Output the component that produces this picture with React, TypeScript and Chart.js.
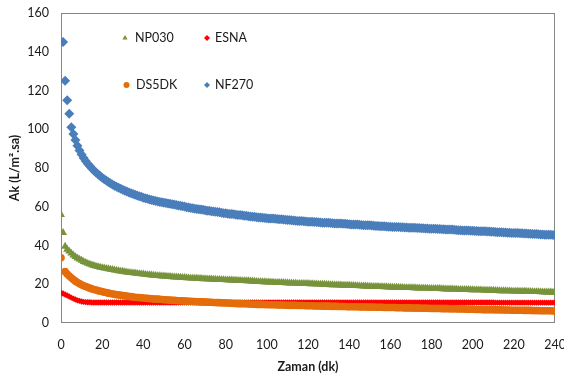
import React, { useEffect, useRef } from 'react';
import { Chart, registerables } from 'chart.js';
import { drawPoint } from 'chart.js/helpers';

Chart.register(...registerables);

// Time (minutes)
const minutes = [
  0, 1, 2, 3, 4, 5, 6, 7, 8, 9, 10,
  11, 12, 13, 14, 15, 16, 17, 18, 19, 20,
  21, 22, 23, 24, 25, 26, 27, 28, 29, 30,
  31, 32, 33, 34, 35, 36, 37, 38, 39, 40,
  41, 42, 43, 44, 45, 46, 47, 48, 49, 50,
  51, 52, 53, 54, 55, 56, 57, 58, 59, 60,
  61, 62, 63, 64, 65, 66, 67, 68, 69, 70,
  71, 72, 73, 74, 75, 76, 77, 78, 79, 80,
  81, 82, 83, 84, 85, 86, 87, 88, 89, 90,
  91, 92, 93, 94, 95, 96, 97, 98, 99, 100,
  101, 102, 103, 104, 105, 106, 107, 108, 109, 110,
  111, 112, 113, 114, 115, 116, 117, 118, 119, 120,
  121, 122, 123, 124, 125, 126, 127, 128, 129, 130,
  131, 132, 133, 134, 135, 136, 137, 138, 139, 140,
  141, 142, 143, 144, 145, 146, 147, 148, 149, 150,
  151, 152, 153, 154, 155, 156, 157, 158, 159, 160,
  161, 162, 163, 164, 165, 166, 167, 168, 169, 170,
  171, 172, 173, 174, 175, 176, 177, 178, 179, 180,
  181, 182, 183, 184, 185, 186, 187, 188, 189, 190,
  191, 192, 193, 194, 195, 196, 197, 198, 199, 200,
  201, 202, 203, 204, 205, 206, 207, 208, 209, 210,
  211, 212, 213, 214, 215, 216, 217, 218, 219, 220,
  221, 222, 223, 224, 225, 226, 227, 228, 229, 230,
  231, 232, 233, 234, 235, 236, 237, 238, 239, 240,
];

const nf270 = [
  null, 145, 125, 115, 108, 101, 97.5, 94.5, 91.5, 89, 87,
  85.2, 83.6, 82.2, 81.0, 79.8, 78.7, 77.7, 76.8, 75.9, 75.0,
  74.2, 73.5, 72.8, 72.1, 71.5, 70.9, 70.3, 69.8, 69.3, 68.8,
  68.3, 67.9, 67.4, 67.0, 66.6, 66.2, 65.8, 65.4, 65.1, 64.7,
  64.4, 64.1, 63.8, 63.5, 63.2, 63.0, 62.7, 62.5, 62.3, 62.1,
  61.9, 61.7, 61.5, 61.3, 61.1, 60.9, 60.7, 60.5, 60.3, 60.1,
  59.8, 59.6, 59.4, 59.2, 59.0, 58.9, 58.7, 58.6, 58.4, 58.2,
  58.0, 57.9, 57.7, 57.6, 57.4, 57.3, 57.1, 56.9, 56.7, 56.6,
  56.4, 56.3, 56.2, 56.1, 55.9, 55.8, 55.7, 55.6, 55.4, 55.3,
  55.1, 55.0, 54.9, 54.8, 54.6, 54.5, 54.4, 54.3, 54.2, 54.1,
  54.0, 54.0, 53.9, 53.8, 53.7, 53.6, 53.5, 53.4, 53.3, 53.2,
  53.1, 53.0, 52.9, 52.8, 52.7, 52.7, 52.6, 52.5, 52.4, 52.3,
  52.2, 52.2, 52.1, 52.1, 52.0, 51.9, 51.8, 51.8, 51.7, 51.7,
  51.6, 51.5, 51.4, 51.4, 51.3, 51.3, 51.2, 51.2, 51.1, 51.0,
  50.9, 50.9, 50.8, 50.8, 50.7, 50.6, 50.5, 50.5, 50.4, 50.4,
  50.3, 50.2, 50.1, 50.1, 50.0, 50.0, 49.9, 49.8, 49.7, 49.7,
  49.6, 49.6, 49.5, 49.5, 49.4, 49.4, 49.3, 49.3, 49.2, 49.2,
  49.1, 49.1, 49.0, 49.0, 48.9, 48.9, 48.8, 48.8, 48.7, 48.7,
  48.6, 48.6, 48.5, 48.5, 48.4, 48.4, 48.3, 48.3, 48.2, 48.2,
  48.1, 48.0, 47.9, 47.9, 47.8, 47.8, 47.7, 47.7, 47.6, 47.6,
  47.5, 47.5, 47.4, 47.4, 47.3, 47.3, 47.2, 47.2, 47.1, 47.1,
  47.0, 46.9, 46.8, 46.8, 46.7, 46.7, 46.6, 46.6, 46.5, 46.5,
  46.4, 46.4, 46.3, 46.3, 46.2, 46.2, 46.1, 46.1, 46.0, 46.0,
  45.9, 45.8, 45.7, 45.7, 45.6, 45.6, 45.5, 45.5, 45.4, 45.4,
];

const np030 = [
  55.9, 46.6, 39.5, 38.0, 37.0, 36.0, 35.0, 34.2, 33.5, 32.9, 32.3,
  31.7, 31.2, 30.7, 30.3, 29.9, 29.6, 29.3, 29.0, 28.7, 28.5,
  28.3, 28.1, 27.9, 27.7, 27.5, 27.3, 27.1, 26.9, 26.7, 26.6,
  26.4, 26.2, 26.0, 25.9, 25.8, 25.7, 25.5, 25.4, 25.3, 25.2,
  25.0, 24.9, 24.8, 24.7, 24.6, 24.5, 24.4, 24.3, 24.2, 24.2,
  24.1, 24.0, 23.9, 23.8, 23.7, 23.7, 23.6, 23.5, 23.4, 23.4,
  23.3, 23.2, 23.1, 23.1, 23.0, 23.0, 22.9, 22.9, 22.8, 22.8,
  22.7, 22.6, 22.6, 22.5, 22.5, 22.4, 22.4, 22.3, 22.3, 22.2,
  22.2, 22.1, 22.1, 22.0, 22.0, 21.9, 21.9, 21.8, 21.8, 21.7,
  21.7, 21.6, 21.6, 21.5, 21.4, 21.3, 21.3, 21.2, 21.2, 21.1,
  21.1, 21.0, 21.0, 20.9, 20.9, 20.9, 20.8, 20.8, 20.7, 20.7,
  20.6, 20.6, 20.5, 20.5, 20.4, 20.4, 20.4, 20.4, 20.3, 20.3,
  20.2, 20.2, 20.1, 20.1, 20.0, 20.0, 19.9, 19.9, 19.8, 19.8,
  19.7, 19.7, 19.6, 19.6, 19.5, 19.5, 19.4, 19.4, 19.4, 19.4,
  19.3, 19.3, 19.2, 19.2, 19.1, 19.1, 19.0, 19.0, 18.9, 18.9,
  18.8, 18.8, 18.8, 18.8, 18.7, 18.7, 18.6, 18.6, 18.5, 18.5,
  18.4, 18.4, 18.4, 18.4, 18.3, 18.3, 18.2, 18.2, 18.2, 18.2,
  18.1, 18.1, 18.0, 18.0, 17.9, 17.9, 17.9, 17.9, 17.8, 17.8,
  17.7, 17.7, 17.7, 17.7, 17.6, 17.6, 17.5, 17.5, 17.5, 17.5,
  17.4, 17.4, 17.3, 17.3, 17.2, 17.2, 17.2, 17.2, 17.1, 17.1,
  17.0, 17.0, 17.0, 17.0, 16.9, 16.9, 16.8, 16.8, 16.8, 16.8,
  16.7, 16.7, 16.6, 16.6, 16.6, 16.6, 16.5, 16.5, 16.4, 16.4,
  16.4, 16.4, 16.3, 16.3, 16.3, 16.3, 16.2, 16.2, 16.1, 16.1,
  16.1, 16.1, 16.0, 16.0, 15.9, 15.9, 15.9, 15.9, 15.8, 15.8,
];

const ds5dk = [
  33.7, null, 26.5, 25.3, 24.2, 23.3, 22.4, 21.6, 20.9, 20.3, 19.7,
  19.2, 18.8, 18.4, 18.0, 17.6, 17.3, 17.0, 16.7, 16.4, 16.2,
  15.9, 15.7, 15.4, 15.2, 15.0, 14.8, 14.6, 14.5, 14.3, 14.2,
  14.0, 13.9, 13.7, 13.6, 13.4, 13.3, 13.2, 13.1, 13.0, 12.9,
  12.8, 12.7, 12.6, 12.5, 12.4, 12.3, 12.3, 12.2, 12.1, 12.0,
  12.0, 11.9, 11.8, 11.7, 11.7, 11.6, 11.5, 11.5, 11.4, 11.3,
  11.3, 11.2, 11.2, 11.1, 11.1, 11.0, 11.0, 10.9, 10.9, 10.8,
  10.8, 10.7, 10.7, 10.6, 10.6, 10.5, 10.5, 10.4, 10.4, 10.3,
  10.3, 10.2, 10.2, 10.1, 10.1, 10.0, 10.0, 9.9, 9.9, 9.9,
  9.8, 9.8, 9.7, 9.7, 9.6, 9.6, 9.6, 9.6, 9.5, 9.5,
  9.4, 9.4, 9.4, 9.4, 9.3, 9.3, 9.3, 9.3, 9.2, 9.2,
  9.1, 9.1, 9.1, 9.1, 9.0, 9.0, 9.0, 9.0, 8.9, 8.9,
  8.9, 8.9, 8.8, 8.8, 8.8, 8.8, 8.7, 8.7, 8.7, 8.7,
  8.6, 8.6, 8.6, 8.6, 8.5, 8.5, 8.5, 8.5, 8.4, 8.4,
  8.4, 8.4, 8.4, 8.4, 8.3, 8.3, 8.3, 8.3, 8.2, 8.2,
  8.2, 8.2, 8.1, 8.1, 8.1, 8.1, 8.0, 8.0, 8.0, 8.0,
  8.0, 8.0, 7.9, 7.9, 7.9, 7.9, 7.8, 7.8, 7.8, 7.8,
  7.7, 7.7, 7.7, 7.7, 7.6, 7.6, 7.6, 7.6, 7.5, 7.5,
  7.5, 7.5, 7.5, 7.5, 7.4, 7.4, 7.4, 7.4, 7.3, 7.3,
  7.3, 7.3, 7.2, 7.2, 7.2, 7.2, 7.1, 7.1, 7.1, 7.1,
  7.0, 7.0, 7.0, 7.0, 6.9, 6.9, 6.9, 6.9, 6.9, 6.9,
  6.8, 6.8, 6.8, 6.8, 6.7, 6.7, 6.7, 6.7, 6.6, 6.6,
  6.6, 6.6, 6.6, 6.6, 6.5, 6.5, 6.5, 6.5, 6.4, 6.4,
  6.4, 6.4, 6.3, 6.3, 6.3, 6.3, 6.3, 6.3, 6.2, 6.2,
];

const esna = [
  15.6, 15.2, 14.7, 14.2, 13.7, 13.1, 12.6, 12.1, 11.7, 11.4, 11.1,
  10.9, 10.8, 10.7, 10.7, 10.6, 10.6, 10.6, 10.6, 10.6, 10.6,
  10.6, 10.6, 10.6, 10.6, 10.6, 10.6, 10.6, 10.6, 10.6, 10.6,
  10.6, 10.6, 10.6, 10.6, 10.6, 10.6, 10.6, 10.6, 10.6, 10.6,
  10.6, 10.6, 10.6, 10.6, 10.6, 10.6, 10.6, 10.6, 10.6, 10.6,
  10.6, 10.6, 10.6, 10.6, 10.6, 10.6, 10.6, 10.6, 10.6, 10.6,
  10.6, 10.6, 10.6, 10.6, 10.6, 10.6, 10.6, 10.6, 10.6, 10.6,
  10.6, 10.6, 10.6, 10.6, 10.6, 10.6, 10.6, 10.6, 10.6, 10.6,
  10.6, 10.6, 10.6, 10.6, 10.6, 10.6, 10.6, 10.6, 10.6, 10.6,
  10.6, 10.6, 10.6, 10.6, 10.6, 10.6, 10.6, 10.6, 10.6, 10.6,
  10.6, 10.6, 10.6, 10.6, 10.6, 10.6, 10.6, 10.6, 10.6, 10.6,
  10.6, 10.6, 10.6, 10.6, 10.6, 10.6, 10.6, 10.6, 10.6, 10.6,
  10.6, 10.6, 10.6, 10.6, 10.6, 10.6, 10.6, 10.6, 10.6, 10.6,
  10.6, 10.6, 10.6, 10.6, 10.6, 10.6, 10.6, 10.6, 10.6, 10.6,
  10.6, 10.6, 10.6, 10.6, 10.6, 10.6, 10.6, 10.6, 10.6, 10.6,
  10.6, 10.6, 10.6, 10.6, 10.6, 10.6, 10.6, 10.6, 10.6, 10.6,
  10.6, 10.6, 10.6, 10.6, 10.6, 10.6, 10.6, 10.6, 10.6, 10.6,
  10.6, 10.6, 10.6, 10.6, 10.6, 10.6, 10.6, 10.6, 10.6, 10.6,
  10.6, 10.6, 10.6, 10.6, 10.6, 10.6, 10.6, 10.6, 10.6, 10.6,
  10.6, 10.6, 10.6, 10.6, 10.6, 10.6, 10.6, 10.6, 10.6, 10.6,
  10.6, 10.6, 10.6, 10.6, 10.6, 10.6, 10.6, 10.6, 10.6, 10.6,
  10.5, 10.5, 10.5, 10.5, 10.5, 10.5, 10.5, 10.5, 10.5, 10.5,
  10.5, 10.5, 10.5, 10.5, 10.5, 10.5, 10.5, 10.5, 10.5, 10.5,
  10.5, 10.5, 10.5, 10.5, 10.5, 10.5, 10.5, 10.5, 10.5, 10.5,
];

const xTicks = [0, 20, 40, 60, 80, 100, 120, 140, 160, 180, 200, 220, 240];
const yTicks = [0, 20, 40, 60, 80, 100, 120, 140, 160];

const seriesNames = ['NP030', 'ESNA', 'DS5DK', 'NF270'];
const seriesColors = ['#77933C', '#FF0000', '#E46C0A', '#4A7EBB'];
const seriesStyles = ['triangle', 'rectRot', 'circle', 'rectRot'];
const seriesRadius = [4.6, 3.2, 3.8, 5];
const seriesValues = [np030, esna, ds5dk, nf270];

const FONT = 'Lato, "Open Sans", sans-serif';

const toPoints = (vals: (number | null)[]) =>
  minutes.map((m, i) => ({ x: m, y: vals[i] }));

const frameAndLegend = {
  id: 'frameAndLegend',
  beforeDatasetsDraw(chart: any) {
    const { ctx, chartArea } = chart;
    ctx.save();
    ctx.strokeStyle = '#868686';
    ctx.lineWidth = 1;
    ctx.strokeRect(
      Math.round(chartArea.left) + 0.5,
      Math.round(chartArea.top) + 0.5,
      Math.round(chartArea.right - chartArea.left) - 1,
      Math.round(chartArea.bottom - chartArea.top) - 1
    );
    ctx.restore();
  },
  afterDraw(chart: any) {
    const { ctx } = chart;
    const spots = [
      { mx: 125, my: 38, tx: 135, ty: 38 },
      { mx: 207, my: 38, tx: 215, ty: 38 },
      { mx: 126.5, my: 85, tx: 136, ty: 85 },
      { mx: 207, my: 85, tx: 215, ty: 85 },
    ];
    ctx.save();
    seriesNames.forEach((name, i) => {
      const s = spots[i];
      ctx.fillStyle = seriesColors[i];
      ctx.strokeStyle = seriesColors[i];
      drawPoint(ctx, { pointStyle: seriesStyles[i], radius: 3, rotation: 0, borderWidth: 0 } as any, s.mx, s.my);
      ctx.fillStyle = '#1a1a1a';
      ctx.font = `12.5px ${FONT}`;
      ctx.textBaseline = 'middle';
      ctx.textAlign = 'left';
      ctx.fillText(name, s.tx, s.ty);
    });
    ctx.restore();
  },
};

export default function App() {
  const ref = useRef<HTMLCanvasElement | null>(null);

  useEffect(() => {
    document.body.style.margin = '0';
    const canvas = ref.current;
    if (!canvas) return;
    const order = [3, 2, 1, 0];
    const chart = new Chart(canvas, {
      type: 'scatter',
      data: {
        datasets: order.map((i) => ({
          label: seriesNames[i],
          data: toPoints(seriesValues[i]),
          showLine: false,
          pointStyle: seriesStyles[i] as any,
          pointRadius: seriesRadius[i],
          pointBackgroundColor: seriesColors[i],
          pointBorderColor: seriesColors[i],
          pointBorderWidth: 0,
        })),
      },
      options: {
        animation: false,
        responsive: false,
        devicePixelRatio: 1,
        layout: { padding: { top: 13, right: 9, left: 0, bottom: 0 } },
        plugins: { legend: { display: false }, tooltip: { enabled: false } },
        scales: {
          x: {
            type: 'linear',
            min: 0,
            max: 240,
            afterBuildTicks: (scale: any) => {
              scale.ticks = xTicks.map((v) => ({ value: v }));
            },
            afterFit: (scale: any) => {
              scale.height = 51;
              scale.paddingLeft = 0;
              scale.paddingRight = 0;
              scale.paddingTop = 0;
              scale.paddingBottom = 0;
            },
            grid: { display: false, drawTicks: false },
            border: { display: false },
            ticks: {
              padding: 14,
              color: '#1a1a1a',
              font: { family: FONT, size: 12.5 },
              maxRotation: 0,
            },
            title: {
              display: true,
              text: 'Zaman (dk)',
              color: '#1a1a1a',
              font: { family: FONT, size: 12.5, weight: 'bold' },
              padding: { top: 0, bottom: 0 },
            },
          },
          y: {
            type: 'linear',
            min: 0,
            max: 160,
            afterBuildTicks: (scale: any) => {
              scale.ticks = yTicks.map((v) => ({ value: v }));
            },
            afterFit: (scale: any) => {
              scale.width = 61;
              scale.paddingLeft = 0;
              scale.paddingRight = 0;
              scale.paddingTop = 0;
              scale.paddingBottom = 0;
            },
            grid: { display: false, drawTicks: false },
            border: { display: false },
            ticks: {
              padding: 12,
              color: '#1a1a1a',
              font: { family: FONT, size: 12.5 },
            },
            title: {
              display: true,
              text: 'Ak (L/m².sa)',
              color: '#1a1a1a',
              font: { family: FONT, size: 12.5, weight: 'bold' },
              padding: { top: 7, bottom: 0 },
            },
          },
        },
      },
      plugins: [frameAndLegend],
    });
    return () => chart.destroy();
  }, []);

  return (
    <div style={{ width: 564, height: 374 }}>
      <canvas ref={ref} width={564} height={374} style={{ display: 'block' }} />
    </div>
  );
}
